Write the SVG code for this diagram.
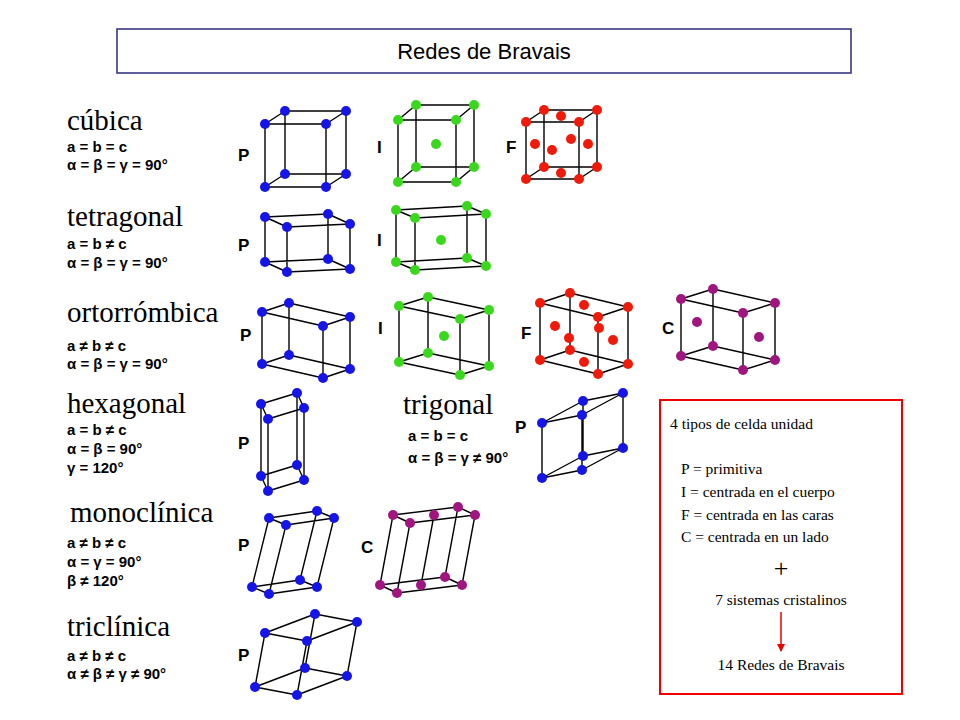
<svg xmlns="http://www.w3.org/2000/svg" width="960" height="720" viewBox="0 0 960 720">
<style>
.e{fill:none;stroke:#000;stroke-width:1.4;stroke-linejoin:round}
.b{fill:#1515e8}.g{fill:#3ad81c}.r{fill:#f01a0a}.p{fill:#a0157f}
.n{font-family:"Liberation Serif",serif;font-size:29px;fill:#000}
.f{font-family:"Liberation Sans Narrow","Liberation Sans",sans-serif;font-weight:bold;font-size:15px;fill:#000}
.l{font-family:"Liberation Sans",sans-serif;font-weight:bold;font-size:17px;fill:#000}
.t{font-family:"Liberation Serif",serif;font-size:15.5px;fill:#000}
.big{font-size:26px}
</style>
<defs>
<marker id="ar" markerWidth="8" markerHeight="8" refX="7" refY="4" orient="auto" markerUnits="userSpaceOnUse"><path d="M0 0L8 4L0 8Z" fill="#e00"/></marker>
</defs>
<rect width="960" height="720" fill="#fff"/>
<g id="title"><rect x="117" y="29" width="734" height="44" fill="#fff" stroke="#2a2a7a" stroke-width="1.5"/>
<text x="484" y="59" text-anchor="middle" font-family="Liberation Sans,sans-serif" font-size="22">Redes de Bravais</text></g>

<g id="labels">
<text class="n" x="67" y="130">cúbica</text>
<text class="f" x="67" y="152">a = b = c</text><text class="f" x="67" y="170">α = β = γ = 90°</text>
<text class="n" x="67" y="226">tetragonal</text>
<text class="f" x="67" y="249">a = b ≠ c</text><text class="f" x="67" y="268">α = β = γ = 90°</text>
<text class="n" x="67" y="322">ortorrómbica</text>
<text class="f" x="67" y="351">a ≠ b ≠ c</text><text class="f" x="67" y="369">α = β = γ = 90°</text>
<text class="n" x="67" y="413">hexagonal</text>
<text class="f" x="67" y="435">a = b ≠ c</text><text class="f" x="67" y="454">α = β = 90°</text><text class="f" x="67" y="473">γ = 120°</text>
<text class="n" x="403" y="414">trigonal</text>
<text class="f" x="408" y="441">a = b = c</text><text class="f" x="408" y="463">α = β = γ ≠ 90°</text>
<text class="n" x="70" y="522">monoclínica</text>
<text class="f" x="67" y="548">a ≠ b ≠ c</text><text class="f" x="67" y="567">α = γ = 90°</text><text class="f" x="67" y="586">β ≠ 120°</text>
<text class="n" x="67" y="636">triclínica</text>
<text class="f" x="67" y="661">a ≠ b ≠ c</text><text class="f" x="67" y="679">α ≠ β ≠ γ ≠ 90°</text>
<text class="l" x="238" y="161">P</text><text class="l" x="377" y="153">I</text><text class="l" x="506" y="153">F</text>
<text class="l" x="238" y="251">P</text><text class="l" x="377" y="246">I</text>
<text class="l" x="240" y="341">P</text><text class="l" x="378" y="334">I</text><text class="l" x="521" y="339">F</text><text class="l" x="662" y="334">C</text>
<text class="l" x="238" y="449">P</text><text class="l" x="515" y="433">P</text>
<text class="l" x="238" y="551">P</text><text class="l" x="361" y="553">C</text>
<text class="l" x="238" y="661">P</text>
</g>

<g id="cubicP"><path class="e" d="M265 187L326 187L346 174L285 174ZM265 124L326 124L346 111L285 111ZM265 187L265 124M326 187L326 124M346 174L346 111M285 174L285 111"/>
<g class="b"><circle cx="265" cy="187" r="5"/><circle cx="326" cy="187" r="5"/><circle cx="285" cy="174" r="5"/><circle cx="346" cy="174" r="5"/><circle cx="265" cy="124" r="5"/><circle cx="326" cy="124" r="5"/><circle cx="285" cy="111" r="5"/><circle cx="346" cy="111" r="5"/></g></g>

<g id="cubicI"><path class="e" d="M398 182L456 182L474 167L416 167ZM398 120L456 120L474 105L416 105ZM398 182L398 120M456 182L456 120M474 167L474 105M416 167L416 105"/>
<g class="g"><circle cx="398" cy="182" r="5"/><circle cx="456" cy="182" r="5"/><circle cx="416" cy="167" r="5"/><circle cx="474" cy="167" r="5"/><circle cx="398" cy="120" r="5"/><circle cx="456" cy="120" r="5"/><circle cx="416" cy="105" r="5"/><circle cx="474" cy="105" r="5"/><circle cx="436" cy="144" r="5"/></g></g>

<g id="cubicF"><path class="e" d="M526 179L579 179L597 167L544 167ZM526 122L579 122L597 110L544 110ZM526 179L526 122M579 179L579 122M597 167L597 110M544 167L544 110"/>
<g class="r"><circle cx="526" cy="179" r="5"/><circle cx="579" cy="179" r="5"/><circle cx="544" cy="167" r="5"/><circle cx="597" cy="167" r="5"/><circle cx="526" cy="122" r="5"/><circle cx="579" cy="122" r="5"/><circle cx="544" cy="110" r="5"/><circle cx="597" cy="110" r="5"/>
<circle cx="552" cy="150" r="5"/><circle cx="571" cy="139" r="5"/><circle cx="535" cy="144" r="5"/><circle cx="588" cy="144" r="5"/><circle cx="561" cy="173" r="5"/><circle cx="561" cy="116" r="5"/></g></g>

<g id="tetraP"><path class="e" d="M287 272L350 269L328 259L265 262ZM287 227L350 224L328 214L265 217ZM287 272L287 227M350 269L350 224M328 259L328 214M265 262L265 217"/>
<g class="b"><circle cx="287" cy="272" r="5"/><circle cx="350" cy="269" r="5"/><circle cx="265" cy="262" r="5"/><circle cx="328" cy="259" r="5"/><circle cx="287" cy="227" r="5"/><circle cx="350" cy="224" r="5"/><circle cx="265" cy="217" r="5"/><circle cx="328" cy="214" r="5"/></g></g>

<g id="tetraI"><path class="e" d="M415 270L486 266L467 258L396 262ZM415 218L486 214L467 206L396 210ZM415 270L415 218M486 266L486 214M467 258L467 206M396 262L396 210"/>
<g class="g"><circle cx="415" cy="270" r="5"/><circle cx="486" cy="266" r="5"/><circle cx="396" cy="262" r="5"/><circle cx="467" cy="258" r="5"/><circle cx="415" cy="218" r="5"/><circle cx="486" cy="214" r="5"/><circle cx="396" cy="210" r="5"/><circle cx="467" cy="206" r="5"/><circle cx="441" cy="240" r="5"/></g></g>

<g id="orthoP"><path class="e" d="M262 364L323 378L350 369L289 355ZM262 312L323 326L350 317L289 303ZM262 364L262 312M323 378L323 326M350 369L350 317M289 355L289 303"/>
<g class="b"><circle cx="262" cy="364" r="5"/><circle cx="323" cy="378" r="5"/><circle cx="289" cy="355" r="5"/><circle cx="350" cy="369" r="5"/><circle cx="262" cy="312" r="5"/><circle cx="323" cy="326" r="5"/><circle cx="289" cy="303" r="5"/><circle cx="350" cy="317" r="5"/></g></g>

<g id="orthoI"><path class="e" d="M399 362L460 375L489 366L428 353ZM399 306L460 319L489 310L428 297ZM399 362L399 306M460 375L460 319M489 366L489 310M428 353L428 297"/>
<g class="g"><circle cx="399" cy="362" r="5"/><circle cx="460" cy="375" r="5"/><circle cx="428" cy="353" r="5"/><circle cx="489" cy="366" r="5"/><circle cx="399" cy="306" r="5"/><circle cx="460" cy="319" r="5"/><circle cx="428" cy="297" r="5"/><circle cx="489" cy="310" r="5"/><circle cx="444" cy="336" r="5"/></g></g>

<g id="orthoF"><path class="e" d="M540 360L598 374L628 364L570 350ZM540 303L598 317L628 307L570 293ZM540 360L540 303M598 374L598 317M628 364L628 307M570 350L570 293"/>
<g class="r"><circle cx="540" cy="360" r="5"/><circle cx="598" cy="374" r="5"/><circle cx="570" cy="350" r="5"/><circle cx="628" cy="364" r="5"/><circle cx="540" cy="303" r="5"/><circle cx="598" cy="317" r="5"/><circle cx="570" cy="293" r="5"/><circle cx="628" cy="307" r="5"/>
<circle cx="569" cy="338" r="5"/><circle cx="599" cy="328" r="5"/><circle cx="555" cy="326" r="5"/><circle cx="613" cy="340" r="5"/><circle cx="584" cy="362" r="5"/><circle cx="584" cy="305" r="5"/></g></g>

<g id="orthoC"><path class="e" d="M681 356L743 370L775 360L713 346ZM681 299L743 313L775 303L713 289ZM681 356L681 299M743 370L743 313M775 360L775 303M713 346L713 289"/>
<g class="p"><circle cx="681" cy="356" r="5"/><circle cx="743" cy="370" r="5"/><circle cx="713" cy="346" r="5"/><circle cx="775" cy="360" r="5"/><circle cx="681" cy="299" r="5"/><circle cx="743" cy="313" r="5"/><circle cx="713" cy="289" r="5"/><circle cx="775" cy="303" r="5"/><circle cx="697" cy="322" r="5"/><circle cx="759" cy="337" r="5"/></g></g>

<g id="hexP"><path class="e" d="M268 491L304 480L297 465L261 476ZM268 419L304 408L297 393L261 404ZM268 491L268 419M304 480L304 408M297 465L297 393M261 476L261 404"/>
<g class="b"><circle cx="268" cy="491" r="5"/><circle cx="304" cy="480" r="5"/><circle cx="261" cy="476" r="5"/><circle cx="297" cy="465" r="5"/><circle cx="268" cy="419" r="5"/><circle cx="304" cy="408" r="5"/><circle cx="261" cy="404" r="5"/><circle cx="297" cy="393" r="5"/></g></g>

<g id="trigP"><path class="e" d="M542 478L582 470L623 448L583 456ZM542 423L582 415L623 393L583 401ZM542 478L542 423M582 470L582 415M623 448L623 393M583 456L583 401"/>
<g class="b"><circle cx="542" cy="478" r="5"/><circle cx="582" cy="470" r="5"/><circle cx="583" cy="456" r="5"/><circle cx="623" cy="448" r="5"/><circle cx="542" cy="423" r="5"/><circle cx="582" cy="415" r="5"/><circle cx="583" cy="401" r="5"/><circle cx="623" cy="393" r="5"/></g></g>

<g id="monoP"><path class="e" d="M252 587L269 594L317 587L300 580ZM269 518L286 525L334 518L317 511ZM252 587L269 518M269 594L286 525M317 587L334 518M300 580L317 511"/>
<g class="b"><circle cx="252" cy="587" r="5"/><circle cx="269" cy="594" r="5"/><circle cx="300" cy="580" r="5"/><circle cx="317" cy="587" r="5"/><circle cx="269" cy="518" r="5"/><circle cx="286" cy="525" r="5"/><circle cx="317" cy="511" r="5"/><circle cx="334" cy="518" r="5"/></g></g>

<g id="monoC"><path class="e" d="M380 585L397 593L462 585L445 577ZM393 515L410 523L475 515L458 507ZM380 585L393 515M397 593L410 523M462 585L475 515M445 577L458 507M421 585L434 515"/>
<g class="p"><circle cx="380" cy="585" r="5"/><circle cx="397" cy="593" r="5"/><circle cx="445" cy="577" r="5"/><circle cx="462" cy="585" r="5"/><circle cx="393" cy="515" r="5"/><circle cx="410" cy="523" r="5"/><circle cx="458" cy="507" r="5"/><circle cx="475" cy="515" r="5"/><circle cx="421" cy="585" r="5"/><circle cx="434" cy="515" r="5"/></g></g>

<g id="tricP"><path class="e" d="M255 687L297 695L347 676L305 668ZM265 633L307 641L357 622L315 614ZM255 687L265 633M297 695L307 641M347 676L357 622M305 668L315 614"/>
<g class="b"><circle cx="255" cy="687" r="5"/><circle cx="297" cy="695" r="5"/><circle cx="305" cy="668" r="5"/><circle cx="347" cy="676" r="5"/><circle cx="265" cy="633" r="5"/><circle cx="307" cy="641" r="5"/><circle cx="315" cy="614" r="5"/><circle cx="357" cy="622" r="5"/></g></g>

<g id="legend"><rect x="660" y="400" width="242" height="294" fill="#fff" stroke="#e00" stroke-width="2"/>
<text class="t" x="670" y="429">4 tipos de celda unidad</text>
<text class="t" x="681" y="474">P = primitiva</text>
<text class="t" x="681" y="497">I = centrada en el cuerpo</text>
<text class="t" x="681" y="520">F = centrada en las caras</text>
<text class="t" x="681" y="542">C = centrada en un lado</text>
<text class="t big" x="781" y="577" text-anchor="middle">+</text>
<text class="t" x="781" y="605" text-anchor="middle">7 sistemas cristalinos</text>
<text class="t" x="781" y="670" text-anchor="middle">14 Redes de Bravais</text></g>
<g id="connectors"><line x1="781" y1="612" x2="781" y2="651" stroke="#e00" stroke-width="1.5" marker-end="url(#ar)"/></g>
</svg>
